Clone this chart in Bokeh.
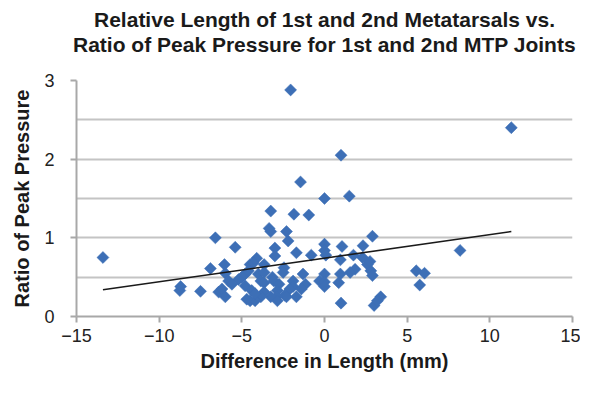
import math
from bokeh.plotting import figure
from bokeh.models import Title, FixedTicker, Range1d, ColumnDataSource
from bokeh.embed import file_html
from bokeh.resources import INLINE

# Difference in length (mm) between 1st and 2nd metatarsals
diff_length = [
    -13.4, -2.05, 1.0, 11.3, -1.45, 0.0, 1.5, -3.25, -1.85, -0.95,
    -3.35, -3.25, -2.3, -6.6, -2.2, 2.9, -5.4, -3.0, 0.0, 0.0,
    1.06, 2.33, 8.2, -3.0, -1.7, -0.8, 0.08, -4.1, 0.96, 1.75,
    2.3, 2.6, -4.5, -3.65, -6.05, -4.3, -6.9, -2.45, 1.85, 2.8,
    5.55, 6.05, 5.76, -6.0, -4.8, -4.0, -3.15, -1.3, 0.0, 0.96,
    1.55, 2.9, -5.0, -5.2, -5.8, -3.85, -3.65, -3.06, -1.9, -0.3,
    0.0, 0.86, -2.75, -1.15, -5.6, -4.8, -1.9, 0.0, -8.75, -8.7,
    -7.5, -6.4, -6.2, -4.4, -3.65, -2.85, -2.1, -1.4, -2.4, -1.7,
    -2.3, -2.9, -3.25, -3.85, -6.0, -4.5, -4.2, -4.7, -2.85, 1.0,
    3.0, 3.4, 3.2, -4.6, 2.75, -3.65, -4.2, -2.5,
]
# Ratio of peak pressure, 1st / 2nd MTP joint
peak_ratio = [
    0.75, 2.88, 2.05, 2.40, 1.71, 1.50, 1.53, 1.34, 1.30, 1.29,
    1.12, 1.08, 1.08, 1.00, 0.96, 1.02, 0.88, 0.87, 0.92, 0.84,
    0.89, 0.90, 0.84, 0.77, 0.81, 0.78, 0.78, 0.74, 0.72, 0.78,
    0.75, 0.66, 0.66, 0.66, 0.66, 0.68, 0.61, 0.62, 0.60, 0.58,
    0.58, 0.55, 0.40, 0.55, 0.54, 0.54, 0.50, 0.54, 0.54, 0.54,
    0.56, 0.52, 0.50, 0.47, 0.45, 0.45, 0.43, 0.45, 0.45, 0.45,
    0.44, 0.43, 0.41, 0.41, 0.41, 0.39, 0.38, 0.38, 0.33, 0.38,
    0.32, 0.31, 0.35, 0.33, 0.31, 0.33, 0.35, 0.35, 0.27, 0.25,
    0.25, 0.25, 0.25, 0.25, 0.25, 0.20, 0.20, 0.22, 0.20, 0.17,
    0.14, 0.25, 0.20, 0.58, 0.70, 0.56, 0.29, 0.56,
]
# Linear trend line end points
trend_x = [-13.4, 11.3]
trend_y = [0.34, 1.08]

title_lines = ["Relative Length of 1st and 2nd Metatarsals vs.",
               "Ratio of Peak Pressure for 1st and 2nd MTP Joints"]
x_ticks = [-15, -10, -5, 0, 5, 10, 15]
y_ticks = [0, 1, 2, 3]
y_grid = [0, 0.5, 1, 1.5, 2, 2.5, 3]

FONT = "Liberation Sans"

p = figure(width=580, height=380, output_backend="svg", toolbar_location=None,
           x_range=Range1d(-15, 15), y_range=Range1d(0, 3),
           min_border_left=76, min_border_right=8, min_border_bottom=64,
           min_border_top=80)
p.outline_line_color = None
p.background_fill_color = "white"
p.border_fill_color = "white"

# blank spacer between the plot and the two title lines
p.add_layout(Title(text=" ", text_font=FONT, text_font_size="10px",
                   standoff=12), "above")
# titles (first added sits closest to the plot)
for txt in [title_lines[1], title_lines[0]]:
    p.add_layout(Title(text=txt, align="center", text_font=FONT,
                       text_font_size="21px", text_font_style="bold",
                       text_color="#1a1a1a", standoff=0, offset=8,
                       text_line_height=1.1), "above")

p.xgrid.grid_line_color = None
p.ygrid.ticker = FixedTicker(ticks=y_grid)
p.ygrid.grid_line_color = "#c4c4c4"
p.ygrid.grid_line_width = 2

p.xaxis.ticker = FixedTicker(ticks=x_ticks)
p.yaxis.ticker = FixedTicker(ticks=y_ticks)
for ax in (p.xaxis[0], p.yaxis[0]):
    ax.axis_line_color = "#a8a8a8"
    ax.axis_line_width = 2
    ax.major_tick_line_color = "#a8a8a8"
    ax.major_tick_line_width = 2
    ax.major_tick_out = 6
    ax.major_tick_in = 0
    ax.minor_tick_line_color = None
    ax.major_label_text_font = FONT
    ax.major_label_text_font_size = "18px"
    ax.major_label_text_color = "#222222"
    ax.axis_label_text_font = FONT
    ax.axis_label_text_font_size = "20px"
    ax.axis_label_text_font_style = "bold"
    ax.axis_label_text_color = "#1a1a1a"

p.xaxis.axis_label = "Difference in Length (mm)"
p.yaxis.axis_label = "Ratio of Peak Pressure"
p.xaxis.major_label_standoff = 6
p.yaxis.major_label_standoff = 16
p.xaxis.axis_label_standoff = 5
p.yaxis.axis_label_standoff = 8

src = ColumnDataSource(dict(x=diff_length, y=peak_ratio))
p.scatter("x", "y", source=src, marker="square", size=8.5, angle=math.pi / 4,
          fill_color="#3D6FB6", line_color="#3D6FB6", line_width=0.5)

p.line(trend_x, trend_y, line_color="#1a1a1a", line_width=1.6)

open("out.html", "w").write(file_html(p, INLINE))
